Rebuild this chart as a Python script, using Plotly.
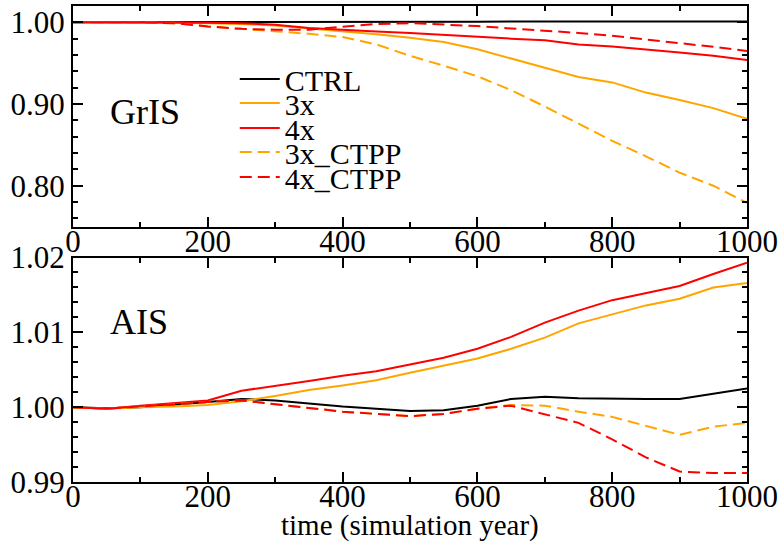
import plotly.graph_objects as go
from plotly.subplots import make_subplots

years = [0, 50, 100, 150, 200, 250, 300, 350, 400, 450, 500,
         550, 600, 650, 700, 750, 800, 850, 900, 950, 1000]

# GrIS (top panel)
gris_ctrl = [1.000, 1.000, 1.000, 1.000, 1.000, 1.000, 1.000, 1.000, 1.000, 1.000, 1.000,
             1.0005, 1.0008, 1.001, 1.001, 1.001, 1.001, 1.001, 1.001, 1.001, 1.001]
gris_3x = [1.000, 1.000, 1.000, 0.9995, 0.999, 0.998, 0.996, 0.9925, 0.989, 0.9855, 0.981,
           0.976, 0.967, 0.956, 0.9445, 0.933, 0.9265, 0.914, 0.905, 0.895, 0.882]
gris_4x = [1.000, 1.000, 1.000, 1.000, 0.9995, 0.999, 0.997, 0.993, 0.9905, 0.9888, 0.987,
           0.9845, 0.9825, 0.980, 0.978, 0.973, 0.9705, 0.967, 0.963, 0.959, 0.954]
gris_3x_ctpp = [1.000, 1.000, 1.000, 0.999, 0.995, 0.992, 0.989, 0.986, 0.982, 0.973, 0.959,
                0.947, 0.934, 0.917, 0.897, 0.876, 0.855, 0.836, 0.816, 0.800, 0.779]
gris_4x_ctpp = [1.000, 1.000, 1.000, 0.999, 0.995, 0.992, 0.991, 0.991, 0.9945, 0.998, 0.999,
                0.9975, 0.9955, 0.9925, 0.990, 0.987, 0.9835, 0.979, 0.975, 0.970, 0.965]

# AIS (bottom panel)
ais_ctrl = [1.0000, 0.99985, 1.0000, 1.0003, 1.0007, 1.0011, 1.0009, 1.0005, 1.0001, 0.9998, 0.9995,
            0.9996, 1.0002, 1.0011, 1.0014, 1.0012, 1.0011, 1.0011, 1.0011, 1.0018, 1.0025]
ais_3x = [1.0000, 0.9998, 1.0000, 1.0001, 1.0003, 1.0008, 1.0015, 1.0023, 1.0029, 1.0036, 1.0046,
          1.0055, 1.0065, 1.0078, 1.0093, 1.0112, 1.0124, 1.0136, 1.0145, 1.0160, 1.0166]
ais_4x = [1.0000, 0.9998, 1.0002, 1.0005, 1.0009, 1.0022, 1.0029, 1.0035, 1.0042, 1.0048, 1.0057,
          1.0066, 1.0078, 1.0094, 1.0113, 1.0129, 1.0143, 1.0153, 1.0162, 1.0178, 1.0193]
ais_3x_ctpp = [1.0000, 0.9998, 1.0001, 1.0004, 1.0007, 1.0009, 1.0004, 0.9999, 0.9994, 0.9991, 0.9988,
               0.9991, 0.9998, 1.0003, 1.0002, 0.9994, 0.9987, 0.9975, 0.9963, 0.9974, 0.9979]
ais_4x_ctpp = [1.0000, 0.9998, 1.0001, 1.0004, 1.0007, 1.0009, 1.0004, 0.9999, 0.9994, 0.9991, 0.9988,
               0.9991, 0.9998, 1.0002, 0.9991, 0.9979, 0.9957, 0.9933, 0.9914, 0.9912, 0.9912]

series_names = ["CTRL", "3x", "4x", "3x_CTPP", "4x_CTPP"]
series_colors = ["#000000", "#FFA500", "#FF0000", "#FFA500", "#FF0000"]
series_dash = ["solid", "solid", "solid", "12px,6px", "12px,6px"]
top_series = [gris_ctrl, gris_3x, gris_4x, gris_3x_ctpp, gris_4x_ctpp]
bottom_series = [ais_ctrl, ais_3x, ais_4x, ais_3x_ctpp, ais_4x_ctpp]

x_ticks = [0, 200, 400, 600, 800, 1000]
x_ticklabels = ["0", "200", "400", "600", "800", "1000"]
top_yticks = [0.80, 0.90, 1.00]
top_yticklabels = ["0.80", "0.90", "1.00"]
bot_yticks = [0.99, 1.00, 1.01, 1.02]
bot_yticklabels = ["0.99", "1.00", "1.01", "1.02"]

FONT = "Liberation Serif"

fig = make_subplots(rows=2, cols=1, shared_xaxes=False, vertical_spacing=0.065)

legend_names = ["legend", "legend2", "legend3", "legend4", "legend5"]
for i, name in enumerate(series_names):
    fig.add_trace(go.Scatter(x=years, y=top_series[i], mode="lines", name=name,
                             line=dict(color=series_colors[i], width=2, dash=series_dash[i]),
                             legend=legend_names[i], showlegend=True), row=1, col=1)
for i, name in enumerate(series_names):
    fig.add_trace(go.Scatter(x=years, y=bottom_series[i], mode="lines", name=name,
                             line=dict(color=series_colors[i], width=2, dash=series_dash[i]),
                             showlegend=False), row=2, col=1)

axis_common = dict(showline=True, linewidth=2, linecolor="black", mirror="allticks",
                   ticks="inside", ticklen=10, tickwidth=2, tickcolor="black",
                   showgrid=False, zeroline=False, automargin=False,
                   tickfont=dict(family=FONT, size=31, color="black"))

fig.update_xaxes(range=[0, 1000], tickvals=x_ticks, ticktext=x_ticklabels,
                 ticklabelstandoff=-14,
                 minor=dict(dtick=100, tick0=0, ticks="inside", ticklen=5, tickwidth=2,
                            tickcolor="black", showgrid=False),
                 **axis_common)
fig.update_yaxes(row=1, col=1, range=[0.75, 1.02], tickvals=top_yticks, ticktext=top_yticklabels,
                 minor=dict(dtick=0.02, tick0=0.8, ticks="inside", ticklen=5, tickwidth=2,
                            tickcolor="black", showgrid=False),
                 **axis_common)
fig.update_yaxes(row=2, col=1, range=[0.99, 1.02], tickvals=bot_yticks, ticktext=bot_yticklabels,
                 minor=dict(dtick=0.002, tick0=0.99, ticks="inside", ticklen=5, tickwidth=2,
                            tickcolor="black", showgrid=False),
                 **axis_common)

fig.update_layout(yaxis=dict(domain=[0.5366, 1.0]), yaxis2=dict(domain=[0.0, 0.4716]))

leg_y = [0.8467, 0.7963, 0.7438, 0.6935, 0.6410]
layout_legends = {}
for i, ln in enumerate(legend_names):
    layout_legends[ln] = dict(x=0.24, y=leg_y[i], xanchor="left", yanchor="middle",
                              bgcolor="rgba(0,0,0,0)", borderwidth=0, itemwidth=40,
                              font=dict(family=FONT, size=30, color="black"))
fig.update_layout(**layout_legends)

fig.add_annotation(text="GrIS", xref="paper", yref="paper", x=0.052, y=0.7775,
                   xanchor="left", yanchor="middle", showarrow=False,
                   font=dict(family=FONT, size=36, color="black"))
fig.add_annotation(text="AIS", xref="paper", yref="paper", x=0.052, y=0.3366,
                   xanchor="left", yanchor="middle", showarrow=False,
                   font=dict(family=FONT, size=36, color="black"))
fig.add_annotation(text="time (simulation year)", xref="paper", yref="paper",
                   x=0.5, y=-0.0917, xanchor="center", yanchor="middle", showarrow=False,
                   font=dict(family=FONT, size=29, color="black"))

fig.update_layout(width=783, height=543,
                  margin=dict(l=73, r=36, t=6, b=61, autoexpand=False),
                  paper_bgcolor="white", plot_bgcolor="white")

fig.write_html("out.html")
